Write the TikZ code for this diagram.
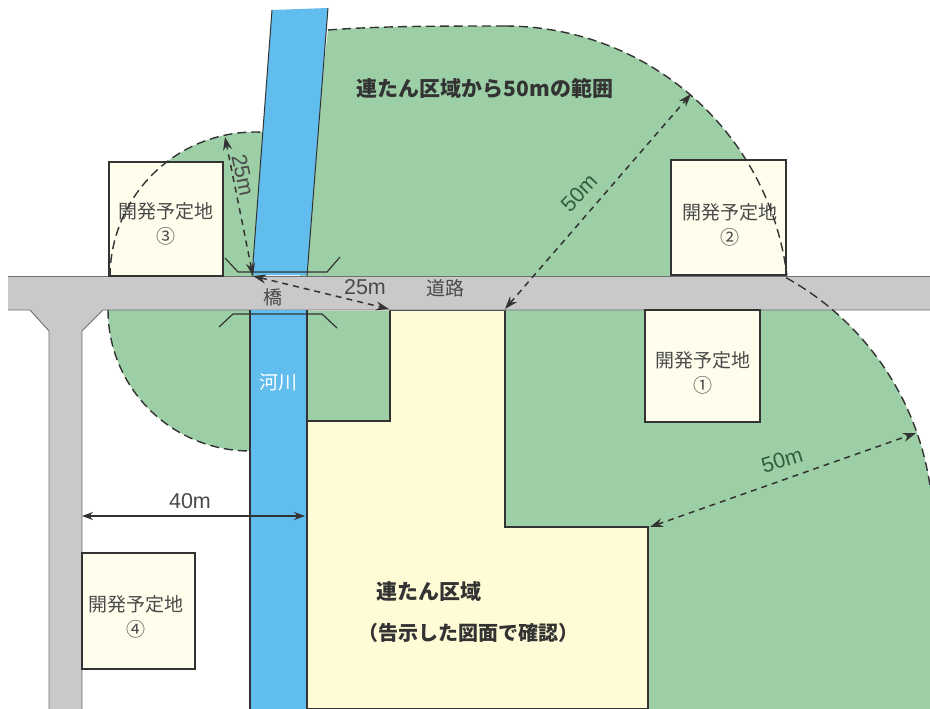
\documentclass[tikz,border=0pt]{standalone}
\usepackage{fontspec}
\setmainfont{Noto Sans CJK JP}
\newfontfamily\dimfont{Liberation Sans}
\usetikzlibrary{arrows.meta}
\definecolor{zone}{HTML}{9CCFA6}
\definecolor{coal}{HTML}{FFFBD6}
\definecolor{plot}{HTML}{FFFDEC}
\definecolor{water}{HTML}{60BDEE}
\definecolor{roadc}{HTML}{C9C9C9}
\definecolor{ink}{HTML}{333333}
\definecolor{txt}{HTML}{4A4A4A}
\definecolor{dkgreen}{HTML}{2F5F3F}
\tikzset{
  outline/.style={draw=ink,line width=1.5pt},
  parcel/.style={draw=ink,line width=1.4pt,fill=plot,minimum width=#1,inner sep=0pt},
  bound/.style={draw=ink,line width=1.4pt,dash pattern=on 9pt off 5pt},
  dim/.style={draw=ink,line width=1.5pt,dash pattern=on 6pt off 5pt,{Stealth[length=13pt,width=9pt]}-{Stealth[length=13pt,width=9pt]}},
  lab/.style={inner sep=0pt,text=txt,font=\fontsize{19}{25}\selectfont},
  dimlab/.style={inner sep=0pt,text=txt,font=\dimfont\fontsize{21.5}{24}\selectfont},
  strong/.style={inner sep=0pt,text=ink,font=\fontsize{21}{25}\selectfont\bfseries}
}
\begin{document}
\begin{tikzpicture}[x=1pt,y=-1pt]
\useasboundingbox (0,0) rectangle (930,709);
\fill[white] (0,0) rectangle (930,709);
% green zones
\fill[zone] (300,276) -- (328,30) .. controls (380,26) and (440,26) .. (505,26)
  -- plot[domain=90:7,samples=50] ({505+284*cos(\x)},{310-284*sin(\x)}) -- (786,276) -- cycle;
\fill[zone] (505,310) -- (833,310)
  -- plot[domain=49.6:8.3,samples=40] ({648+285*cos(\x)},{527-285*sin(\x)})
  -- (930,709) -- (648,709) -- (648,527) -- (505,527) -- cycle;
\fill[zone] plot[domain=180:270,samples=40] ({250+142*cos(\x)},{310-141*sin(\x)}) -- (260,310) -- cycle;
\fill[zone] plot[domain=180:87,samples=40] ({255+145*cos(\x)},{277-145*sin(\x)}) -- (262,277) -- cycle;
% coal area
\draw[outline,fill=coal] (390,310) -- (505,310) -- (505,527) -- (648,527) -- (648,709)
  -- (307,709) -- (307,421) -- (390,421) -- cycle;
\fill[zone] (307,311) rectangle (389.3,420.3);
% road
\fill[roadc] (8,276) -- (930,276) -- (930,310) -- (103,310) -- (82,331) -- (82,709) -- (49,709) -- (49,331) -- (30,310) -- (8,310) -- cycle;
\draw[draw=ink!70,line width=.9pt] (8,276) -- (930,276);
\draw[draw=ink!70,line width=.9pt] (930,310) -- (103,310) -- (82,331) -- (82,709);
\draw[draw=ink!70,line width=.9pt] (8,310) -- (30,310) -- (49,331) -- (49,709);
% river
\fill[water] (272,10) -- (328,8) -- (307,275) -- (252,275) -- cycle;
\draw[draw=ink,line width=1pt] (252,276) -- (272,10) (328,8) -- (307,276);
\fill[water] (250,310) rectangle (307,709);
\draw[draw=ink,line width=1.3pt] (250,310) -- (250,709) (307,310) -- (307,709);
% bridge
\draw[draw=ink,line width=1.2pt] (225,258) -- (238,272) -- (327,272) -- (340,257);
\draw[draw=ink,line width=1.2pt] (219,327) -- (233,314) -- (322,314) -- (337,328);
% parcels
\node[parcel=114pt,minimum height=114pt] (p3) at (166,219) {};
\node[parcel=115pt,minimum height=115pt] (p2) at (728.5,217.5) {};
\node[parcel=115pt,minimum height=112pt] (p1) at (702.5,366) {};
\node[parcel=113pt,minimum height=116pt] (p4) at (138.5,611) {};
\node[lab,align=center] (t3) at (166,224) {開発予定地\\③};
\node[lab,align=center] (t2) at (730,225) {開発予定地\\②};
\node[lab,align=center] (t1) at (703,373) {開発予定地\\①};
\node[lab,align=center] (t4) at (136,617) {開発予定地\\④};
% dashed boundaries
\draw[bound] plot[domain=180:87,samples=40] ({255+145*cos(\x)},{277-145*sin(\x)});
\draw[bound] (328,30) .. controls (380,26) and (440,26) .. (505,26);
\draw[bound] plot[domain=90:7,samples=60] ({505+284*cos(\x)},{310-284*sin(\x)});
\draw[bound] plot[domain=61:8.3,samples=60] ({648+285*cos(\x)},{527-285*sin(\x)});
\draw[bound] plot[domain=180:270,samples=40] ({250+142*cos(\x)},{310-141*sin(\x)});
% dimension anchors
\coordinate (b0) at (253,276);
\coordinate (b1) at (225,137);
\coordinate (b2) at (389,309);
\coordinate (c0) at (505,309);
\coordinate (c1) at (691,94);
\coordinate (d0) at (650,527);
\coordinate (d1) at (916,433);
\coordinate (e0) at (82,516);
\coordinate (e1) at (305,516);
\draw[dim] (b0) -- (b1);
\draw[dim] (b0) -- (b2);
\draw[dim] (c0) -- (c1);
\draw[dim] (d0) -- (d1);
\draw[draw=ink,line width=1.1pt,{Stealth[length=11pt,width=8pt]}-{Stealth[length=11pt,width=8pt]}] (e0) -- (e1);
% labels
\node[dimlab,rotate=-78] (l25a) at (243,175) {25m};
\node[dimlab] (l25b) at (365,287) {25m};
\node[dimlab,rotate=47,text=dkgreen] (l50a) at (579,193) {50m};
\node[dimlab,rotate=17,text=dkgreen] (l50b) at (782,460) {50m};
\node[dimlab] (l40) at (190,501) {40m};
\node[lab] (bridge) at (273,297) {橋};
\node[lab] (road) at (445,288) {道路};
\node[lab,text=white] (river) at (278,382) {河川};
\node[strong] (title) at (485,88) {連たん区域から50mの範囲};
\node[strong] (coal1) at (429,592) {連たん区域};
\node[strong,font=\fontsize{20}{25}\selectfont\bfseries] (coal2) at (468,633) {（告示した図面で確認）};
\end{tikzpicture}
\end{document}
